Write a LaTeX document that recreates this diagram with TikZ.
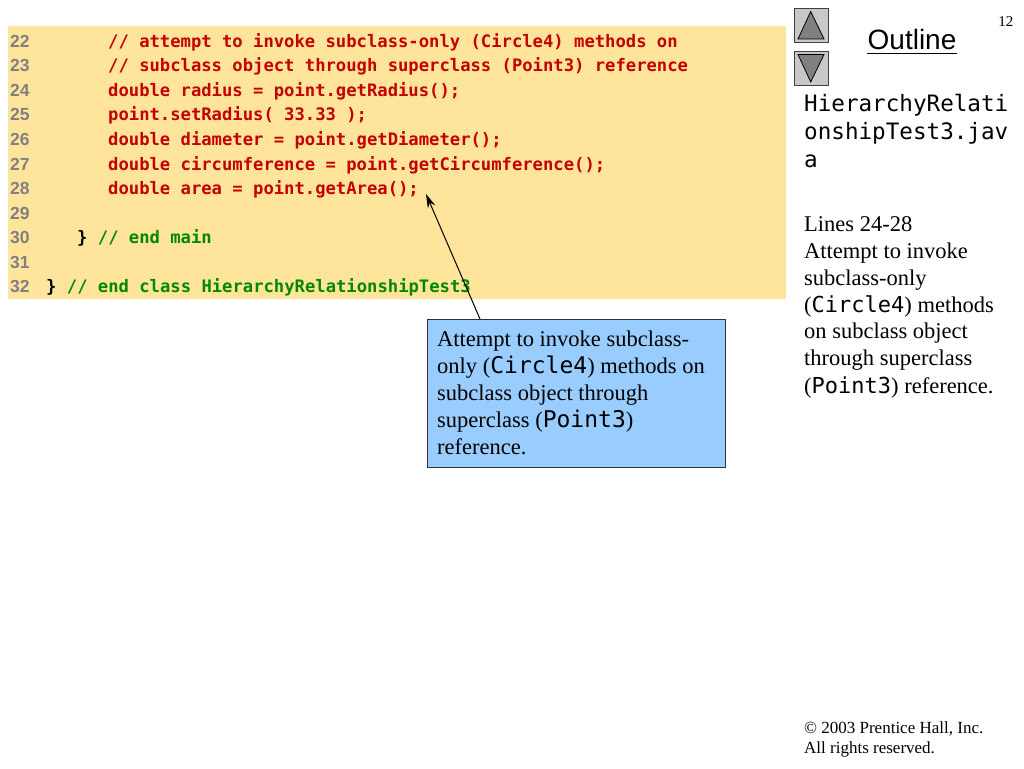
\documentclass[tikz,border=0pt]{standalone}
\usepackage{fontspec}
\setmainfont{Liberation Serif}
\newfontfamily\codefont{DejaVu Sans Mono}
\newfontfamily\arialfont{Liberation Sans}
\usetikzlibrary{arrows.meta,calc}
\definecolor{codebg}{RGB}{255,229,156}
\definecolor{codered}{RGB}{196,0,0}
\definecolor{codegreen}{RGB}{0,136,0}
\definecolor{lnumgray}{RGB}{128,128,128}
\definecolor{calloutblue}{RGB}{153,204,255}
\definecolor{navgray}{RGB}{200,200,200}
\definecolor{trigray}{RGB}{128,128,128}
\newcommand{\mymono}[1]{{\codefont #1}}
\begin{document}
\begin{tikzpicture}[x=1pt,y=-1pt,
  codeline/.style={anchor=base west, inner sep=0pt, text=codered,
    font=\codefont\bfseries\fontsize{17.2}{20}\selectfont},
  lnum/.style={anchor=base west, inner sep=0pt, text=lnumgray,
    font=\arialfont\bfseries\fontsize{17.5}{20}\selectfont},
  bodytext/.style={anchor=base west, inner sep=0pt,
    font=\fontsize{22.5}{27}\selectfont},
  navbtn/.style={draw=black!75, fill=navgray, line width=0.8pt, minimum width=34pt, minimum height=34pt, inner sep=0pt, anchor=north west},
  navtri/.style={fill=trigray, draw=black, line width=0.8pt},
  pointer/.style={draw=black, line width=1pt, -{Stealth[length=14pt,width=8pt]}}
]
\useasboundingbox (0,0) rectangle (1024,768);
\fill[white] (0,0) rectangle (1024,768);

% code panel
\node[fill=codebg, inner sep=0pt, minimum width=778pt, minimum height=273pt, anchor=north west] (codebox) at (7.5,25.5) {};

\foreach \n/\yy in {22/47.3,23/71.8,24/96.4,25/120.9,26/145.5,27/170.0,28/194.5,29/219.1,30/243.6,31/268.2,32/292.7}
  \node[lnum] (ln\n) at (10,\yy) {\n};

\node[codeline] (c22) at (108,47.3) {// attempt to invoke subclass-only (Circle4) methods on};
\node[codeline] (c23) at (108,71.8) {// subclass object through superclass (Point3) reference};
\node[codeline] (c24) at (108,96.4) {double radius = point.getRadius();};
\node[codeline] (c25) at (108,120.9) {point.setRadius( 33.33 );};
\node[codeline] (c26) at (108,145.5) {double diameter = point.getDiameter();};
\node[codeline] (c27) at (108,170.0) {double circumference = point.getCircumference();};
\node[codeline] (c28) at (108,194.5) {double area = point.getArea();};
\node[codeline] (c30) at (77,243.6) {\textcolor{black}{\}} \textcolor{codegreen}{// end main}};
\node[codeline] (c32) at (46,292.7) {\textcolor{black}{\}} \textcolor{codegreen}{// end class HierarchyRelationshipTest3}};

% callout
\node[draw=black!80, line width=0.8pt, fill=calloutblue, minimum width=298pt, minimum height=148pt, inner sep=0pt, anchor=north west] (callout) at (427,319) {};
\node[bodytext] (b1) at (437,346) {Attempt to invoke subclass-};
\node[bodytext] (b2) at (437,373) {only (\mymono{\fontsize{23}{27}\selectfont Circle4}) methods on};
\node[bodytext] (b3) at (437,400) {subclass object through};
\node[bodytext] (b4) at (437,427) {superclass (\mymono{\fontsize{23}{27}\selectfont Point3})};
\node[bodytext] (b5) at (437,454) {reference.};

\coordinate (tip) at (426,194);
\draw[pointer] ($(callout.north west)+(53,0)$) -- (tip);

% navigation buttons
\node[navbtn] (upbtn) at (794,8) {};
\node[navbtn] (downbtn) at (794,51) {};
\filldraw[navtri] (810.7,11.5) -- (798,39) -- (824,39) -- cycle;
\filldraw[navtri] (798,54.5) -- (824,54.5) -- (810.7,82) -- cycle;

\node[anchor=base east, inner sep=0pt, font=\fontsize{15}{18}\selectfont] (pagenum) at (1013.5,26.7) {12};
\node[anchor=base, inner sep=0pt, font=\arialfont\fontsize{28}{32}\selectfont] (outline) at (912,49.3) {Outline};
\draw[line width=1.3pt] ($(outline.base west)+(0,4)$) -- ($(outline.base east)+(0,4)$);

% right panel
\node[anchor=base west, inner sep=0pt, font=\codefont\fontsize{22.6}{28}\selectfont] (fn1) at (804,111) {HierarchyRelati};
\node[anchor=base west, inner sep=0pt, font=\codefont\fontsize{22.6}{28}\selectfont] (fn2) at (804,139) {onshipTest3.jav};
\node[anchor=base west, inner sep=0pt, font=\codefont\fontsize{22.6}{28}\selectfont] (fn3) at (804,167) {a};

\node[bodytext] (r1) at (804,231) {Lines 24-28};
\node[bodytext] (r2) at (804,258) {Attempt to invoke};
\node[bodytext] (r3) at (804,285) {subclass-only};
\node[bodytext] (r4) at (804,312) {(\mymono{\fontsize{22}{27}\selectfont Circle4}) methods};
\node[bodytext] (r5) at (804,338.5) {on subclass object};
\node[bodytext] (r6) at (804,365.5) {through superclass};
\node[bodytext] (r7) at (804,393) {(\mymono{\fontsize{22}{27}\selectfont Point3}) reference.};

% footer
\node[anchor=base west, inner sep=0pt, font=\fontsize{17}{20}\selectfont] (copy1) at (804,733) {\textcopyright{} 2003 Prentice Hall, Inc.};
\node[anchor=base west, inner sep=0pt, font=\fontsize{17}{20}\selectfont] (copy2) at (804,753) {All rights reserved.};
\end{tikzpicture}
\end{document}
